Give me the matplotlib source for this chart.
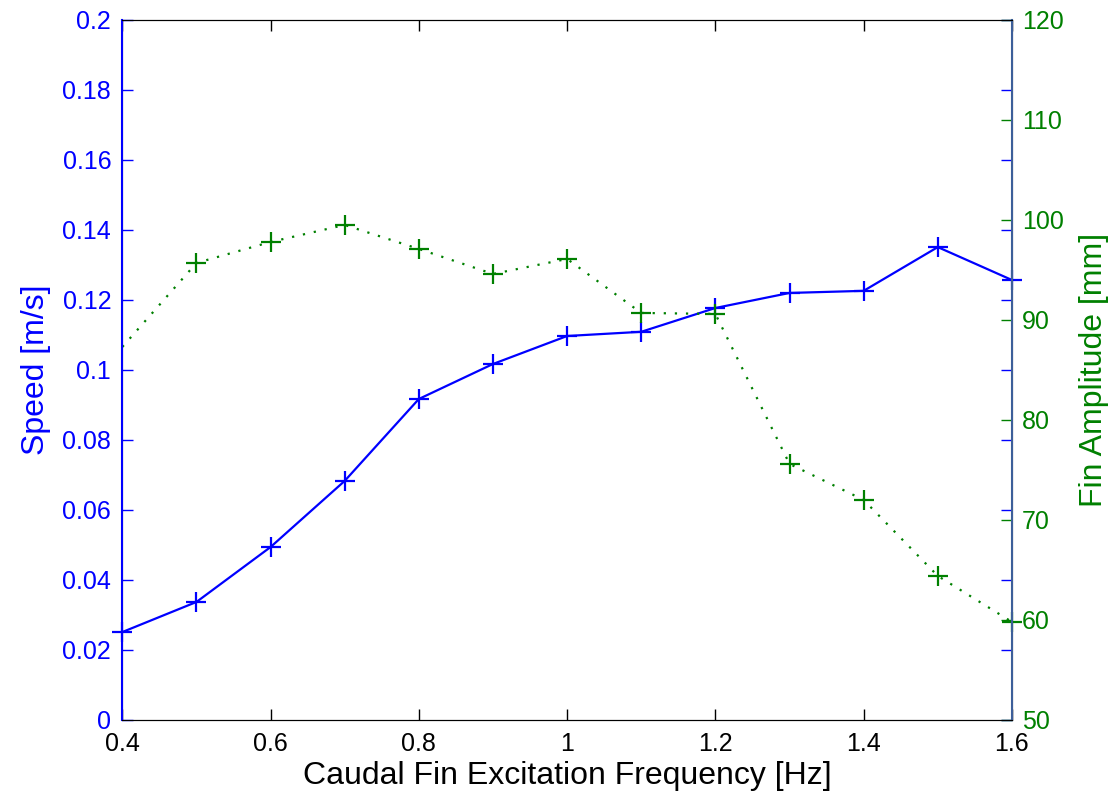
import matplotlib
matplotlib.use("Agg")
import matplotlib.pyplot as plt

freq = [0.4, 0.5, 0.6, 0.7, 0.8, 0.9, 1.0, 1.1, 1.2, 1.3, 1.4, 1.5, 1.6]
speed = [0.0251, 0.0337, 0.0494, 0.0683, 0.0917, 0.1017, 0.1097, 0.1109,
         0.1177, 0.1220, 0.1226, 0.1351, 0.1257]
amplitude = [87.3, 95.7, 97.8, 99.5, 97.1, 94.6, 96.1, 90.7, 90.6, 75.6,
             72.0, 64.4, 59.8]

speed_ticks = [0, 0.02, 0.04, 0.06, 0.08, 0.1, 0.12, 0.14, 0.16, 0.18, 0.2]
speed_labels = ["0", "0.02", "0.04", "0.06", "0.08", "0.1", "0.12", "0.14",
                "0.16", "0.18", "0.2"]
amp_ticks = [50, 60, 70, 80, 90, 100, 110, 120]
freq_ticks = [0.4, 0.6, 0.8, 1.0, 1.2, 1.4, 1.6]
freq_labels = ["0.4", "0.6", "0.8", "1", "1.2", "1.4", "1.6"]

BLUE = "#0000ff"
GREEN = "#008000"

plt.rcParams["font.family"] = ["Liberation Sans", "DejaVu Sans"]

fig = plt.figure(figsize=(11.12, 7.99), dpi=100)
ax = fig.add_axes([0.110, 0.099, 0.800, 0.876])
ax2 = ax.twinx()

ax.plot(freq, speed, color=BLUE, lw=1.6, marker="+", ms=14, mew=1.6,
        clip_on=False, zorder=3)
ax2.plot(freq, amplitude, color=GREEN, lw=1.6, ls=(0, (1, 4)), marker="+",
         ms=14, mew=1.6, markevery=slice(1, None), clip_on=False)

ax.set_xlim(0.4, 1.6)
ax.set_ylim(0, 0.2)
ax2.set_ylim(50, 120)

ax.set_xticks(freq_ticks)
ax.set_xticklabels(freq_labels)
ax.set_yticks(speed_ticks)
ax.set_yticklabels(speed_labels)
ax2.set_yticks(amp_ticks)

ax.tick_params(axis="x", direction="in", length=8, width=1, colors="black",
               labelsize=18, pad=9, top=True)
ax.tick_params(axis="y", direction="in", length=8, width=1, colors=BLUE,
               labelsize=18, pad=8, right=True)
ax2.tick_params(axis="y", direction="in", length=8, width=1, colors=GREEN,
                labelsize=18, pad=7)

for side in ("top", "bottom"):
    ax2.spines[side].set_color("black")
ax2.spines["left"].set_color(BLUE)
ax2.spines["right"].set_color("#3d5f9a")
ax2.spines["left"].set_linewidth(1.5)
ax2.spines["right"].set_linewidth(1.5)

ax.set_xlabel("Caudal Fin Excitation Frequency [Hz]", fontsize=23, labelpad=3)
ax.set_ylabel("Speed [m/s]", fontsize=23, color=BLUE, labelpad=8)
ax2.set_ylabel("Fin Amplitude [mm]", fontsize=23, color=GREEN, labelpad=11)

fig.savefig("out.png", dpi=100)
